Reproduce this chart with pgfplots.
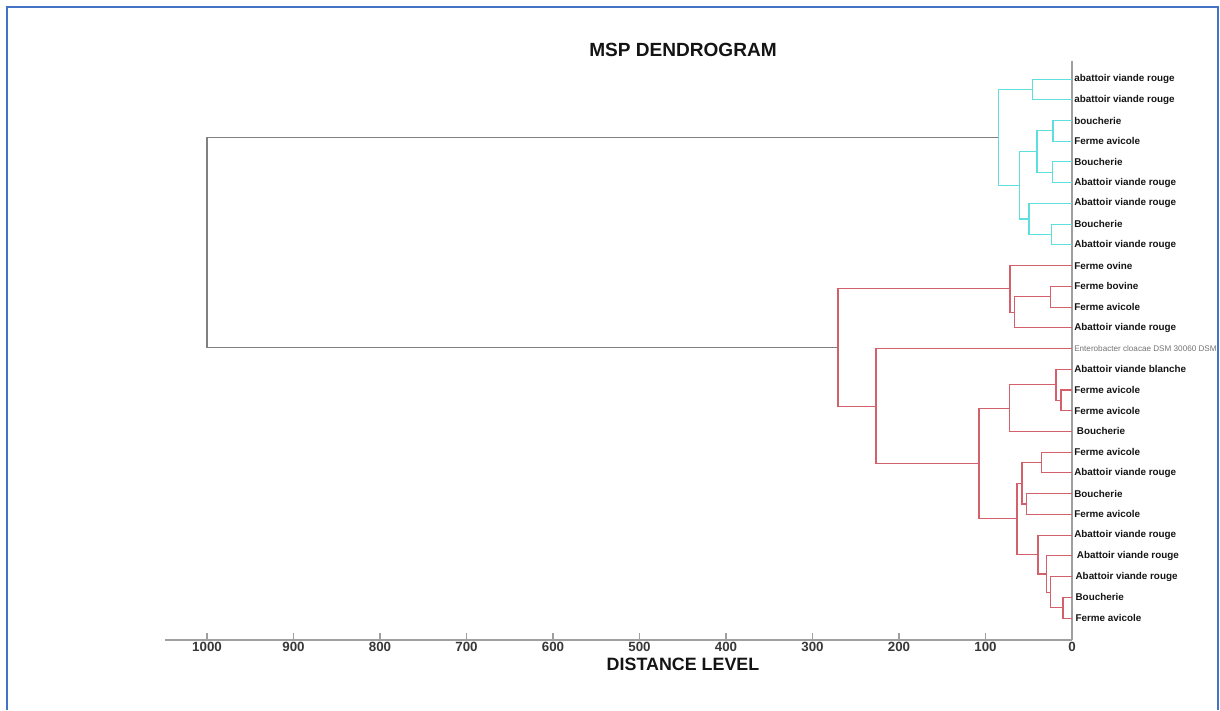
\documentclass[border=0pt]{standalone}
\usepackage{pgfplots}
\pgfplotsset{compat=1.18}
\usepackage{fontspec}
\setmainfont{Liberation Sans}
\definecolor{cyanl}{RGB}{95,222,222}
\definecolor{redl}{RGB}{212,96,108}
\definecolor{rootg}{RGB}{128,128,128}
\definecolor{frameblue}{RGB}{68,114,196}
\definecolor{txt}{RGB}{20,20,20}
\begin{document}
\begin{tikzpicture}
\path[use as bounding box] (0,0) rectangle (915pt,-532.5pt);
\draw[frameblue, line width=1.6pt] (5.25pt,-532.5pt) -- (5.25pt,-5.25pt) -- (913.5pt,-5.25pt) -- (913.5pt,-532.5pt);
\begin{axis}[
  at={(463.875pt,-262.875pt)}, anchor=center,
  scale only axis, width=680.25pt, height=434.25pt,
  x dir=reverse, y dir=reverse,
  xmin=0, xmax=1048.6, ymin=0.13, ymax=28.06,
  axis x line*=bottom, axis y line*=right,
  axis line style={-},
  x axis line style={draw=gray!75, line width=1.2pt},
  y axis line style={draw=gray!75, line width=1.1pt},
  xtick={0,100,...,1000},
  tick align=inside, major tick length=5.5pt,
  xtick style={draw=gray!75, line width=0.9pt},
  ytick style={draw=none},
  /pgf/number format/assume math mode=true,
  /pgf/number format/1000 sep={},
  xticklabel style={font=\bfseries\fontsize{10}{11}\selectfont, text=txt!85, inner sep=1.8pt},
  ytick={1,...,27},
  yticklabel style={font=\bfseries\fontsize{7.4}{8}\selectfont, text=txt, anchor=west, inner sep=1.5pt},
  yticklabels={abattoir viande rouge, abattoir viande rouge, boucherie, Ferme avicole, Boucherie, Abattoir viande rouge, Abattoir viande rouge, Boucherie, Abattoir viande rouge, Ferme ovine, Ferme bovine, Ferme avicole, Abattoir viande rouge, {\mdseries\fontsize{6.1}{7}\selectfont\color{gray!90!black}Enterobacter cloacae DSM 30060 DSM}, Abattoir viande blanche, Ferme avicole, Ferme avicole, \hspace{2pt}Boucherie, Ferme avicole, Abattoir viande rouge, Boucherie, Ferme avicole, Abattoir viande rouge, \hspace{2pt}Abattoir viande rouge, \hspace{1pt}Abattoir viande rouge, \hspace{1pt}Boucherie, \hspace{1pt}Ferme avicole},
  cl/.style={color=cyanl, line width=0.8pt, mark=none},
  rl/.style={color=redl, line width=0.8pt, mark=none},
  gl/.style={color=rootg, line width=0.8pt, mark=none},
]
% cyan cluster
\addplot[cl] coordinates {(0,1) (46,1) (46,2) (0,2)};
\addplot[cl] coordinates {(0,3) (22,3) (22,4) (0,4)};
\addplot[cl] coordinates {(0,5) (23,5) (23,6) (0,6)};
\addplot[cl] coordinates {(22,3.5) (40.5,3.5) (40.5,5.5) (23,5.5)};
\addplot[cl] coordinates {(0,8) (24,8) (24,9) (0,9)};
\addplot[cl] coordinates {(0,7) (49.7,7) (49.7,8.5) (24,8.5)};
\addplot[cl] coordinates {(40.5,4.5) (61,4.5) (61,7.75) (49.7,7.75)};
\addplot[cl] coordinates {(46,1.5) (85.5,1.5) (85.5,6.125) (61,6.125)};
% red cluster
\addplot[rl] coordinates {(0,11) (25.4,11) (25.4,12) (0,12)};
\addplot[rl] coordinates {(25.4,11.5) (67,11.5) (67,13) (0,13)};
\addplot[rl] coordinates {(0,10) (71.7,10) (71.7,12.25) (67,12.25)};
\addplot[rl] coordinates {(0,16) (12.7,16) (12.7,17) (0,17)};
\addplot[rl] coordinates {(0,15) (18.5,15) (18.5,16.5) (12.7,16.5)};
\addplot[rl] coordinates {(18.5,15.75) (72.8,15.75) (72.8,18) (0,18)};
\addplot[rl] coordinates {(0,19) (35.8,19) (35.8,20) (0,20)};
\addplot[rl] coordinates {(0,21) (53,21) (53,22) (0,22)};
\addplot[rl] coordinates {(35.8,19.5) (57.8,19.5) (57.8,21.5) (53,21.5)};
\addplot[rl] coordinates {(0,26) (10.4,26) (10.4,27) (0,27)};
\addplot[rl] coordinates {(0,25) (25.4,25) (25.4,26.5) (10.4,26.5)};
\addplot[rl] coordinates {(0,24) (29,24) (29,25.75) (25.4,25.75)};
\addplot[rl] coordinates {(0,23) (39.3,23) (39.3,24.875) (29,24.875)};
\addplot[rl] coordinates {(57.8,20.5) (63.6,20.5) (63.6,23.9375) (39.3,23.9375)};
\addplot[rl] coordinates {(72.8,16.875) (107.5,16.875) (107.5,22.21875) (63.6,22.21875)};
\addplot[rl] coordinates {(0,14) (226.6,14) (226.6,19.546875) (107.5,19.546875)};
\addplot[rl] coordinates {(71.7,11.125) (270.5,11.125) (270.5,16.7734375) (226.6,16.7734375)};
% root
\addplot[gl] coordinates {(85.5,3.8125) (1000,3.8125) (1000,13.94921875) (270.5,13.94921875)};
\end{axis}
\node[font=\bfseries\fontsize{14.3}{16}\selectfont, text=txt] at (512.25pt,-37.5pt) {MSP DENDROGRAM};
\node[font=\bfseries\fontsize{13.4}{15}\selectfont, text=txt] at (512.25pt,-498pt) {DISTANCE LEVEL};
\end{tikzpicture}
\end{document}
